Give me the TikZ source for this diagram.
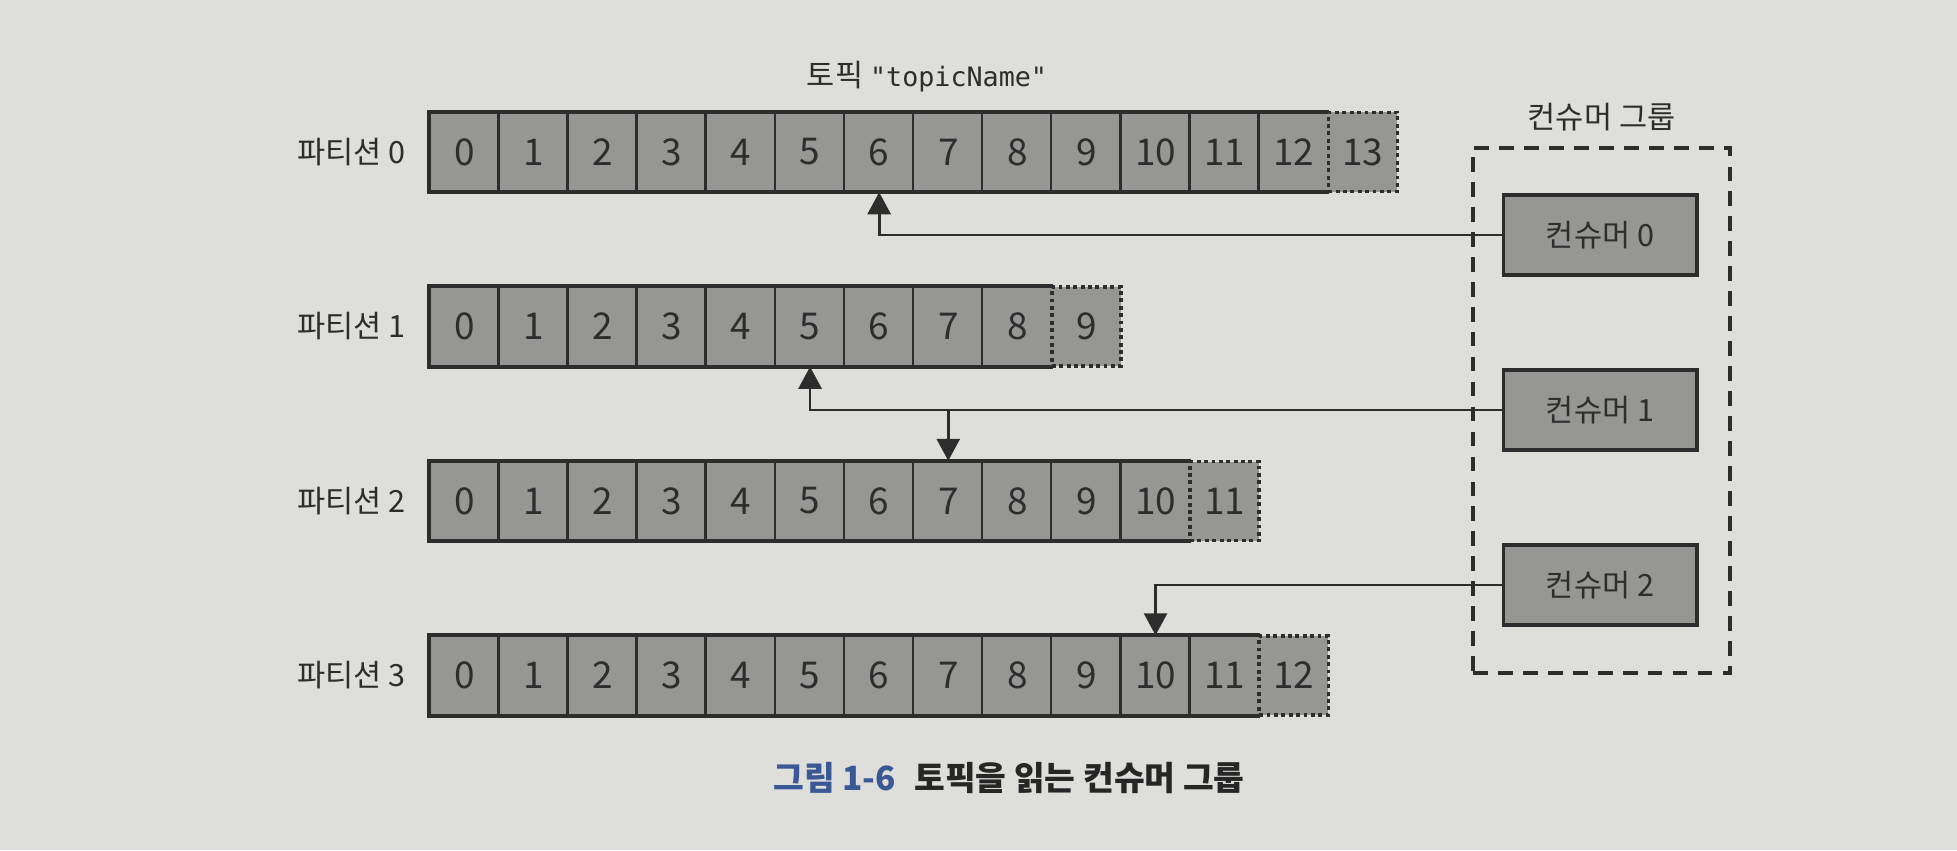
\documentclass[tikz,border=0pt]{standalone}
\usepackage{fontspec}
\setmainfont{Noto Sans CJK KR}
\setmonofont{DejaVu Sans Mono}
\usetikzlibrary{arrows.meta,positioning}
\definecolor{paper}{RGB}{222,222,219}
\definecolor{cellgray}{RGB}{150,150,148}
\definecolor{ink}{RGB}{45,45,45}
\definecolor{capblue}{RGB}{58,88,150}
\begin{document}
\begin{tikzpicture}[x=0.01cm,y=-0.01cm,
    cell/.style={fill=cellgray,minimum width=0.691cm,minimum height=0.79cm,
      inner sep=0pt,text=ink,font=\fontsize{10.5}{11}\selectfont},
    newcell/.style={cell,draw=ink,line width=1pt,dash pattern=on 1.1pt off 1pt},
    divider/.style={draw=ink,line width=0.7pt},
    rowedge/.style={draw=ink,line width=1.1pt},
    consumer/.style={draw=ink,fill=cellgray,line width=1.1pt,minimum width=1.93cm,
      minimum height=0.8cm,text=ink,font=\fontsize{8.7}{10}\selectfont},
    group/.style={draw=ink,line width=1.1pt,dash pattern=on 4.2pt off 2.9pt,
      minimum width=2.57cm,minimum height=5.25cm},
    conn/.style={draw=ink,line width=0.8pt,-{Triangle[length=0.22cm,width=0.23cm]}},
    lbl/.style={text=ink,font=\fontsize{8.7}{10}\selectfont}]
  \useasboundingbox (0,0) rectangle (1957,850);
  \fill[paper] (0,0) rectangle (1957,850);

  % topic title
  \node[lbl] (topic) at (927,77) {토픽 {\fontsize{7.6}{10}\selectfont\ttfamily "topicName"}};

  % partitions
  \foreach \r/\n/\m in {0/13/12,1/9/8,2/11/10,3/12/11}{
    \foreach \i in {0,...,\m}
      \node[cell] (p\r-\i) at (464.55+69.1*\i,152+174.5*\r) {\i};
    \foreach \i in {1,...,\m}
      \draw[divider] (p\r-\i.north west) -- (p\r-\i.south west);
    \draw[rowedge] (p\r-\m.north east) -- (p\r-0.north west)
      -- (p\r-0.south west) -- (p\r-\m.south east);
    \node[newcell] (p\r-\n) at (464.55+69.1*\n,152+174.5*\r) {\n};
    \node[lbl,left=0.11cm of p\r-0] (lab\r) {파티션 \r};
  }

  % consumer group
  \node[group] (grp) at (1601.5,410.5) {};
  \node[lbl,above=0.02cm of grp] (grplab) {컨슈머 그룹};
  \foreach \k in {0,1,2}
    \node[consumer] (c\k) at (1600,235+175*\k) {컨슈머 \k};

  % reads
  \draw[conn] (c0.west) -| (p0-6.south);
  \draw[conn] (c1.west) -| (p1-5.south);
  \coordinate (split) at (p2-7.north |- c1.west);
  \draw[conn] (split) -- (p2-7.north);
  \draw[conn] (c2.west) -| (p3-10.north);

  % caption
  \node[font=\fontsize{9.5}{11}\selectfont\bfseries,text=black!85] (cap) at (1009,778)
    {\textcolor{capblue}{그림 1-6}\hspace{0.55em}토픽을 읽는 컨슈머 그룹};
\end{tikzpicture}
\end{document}
